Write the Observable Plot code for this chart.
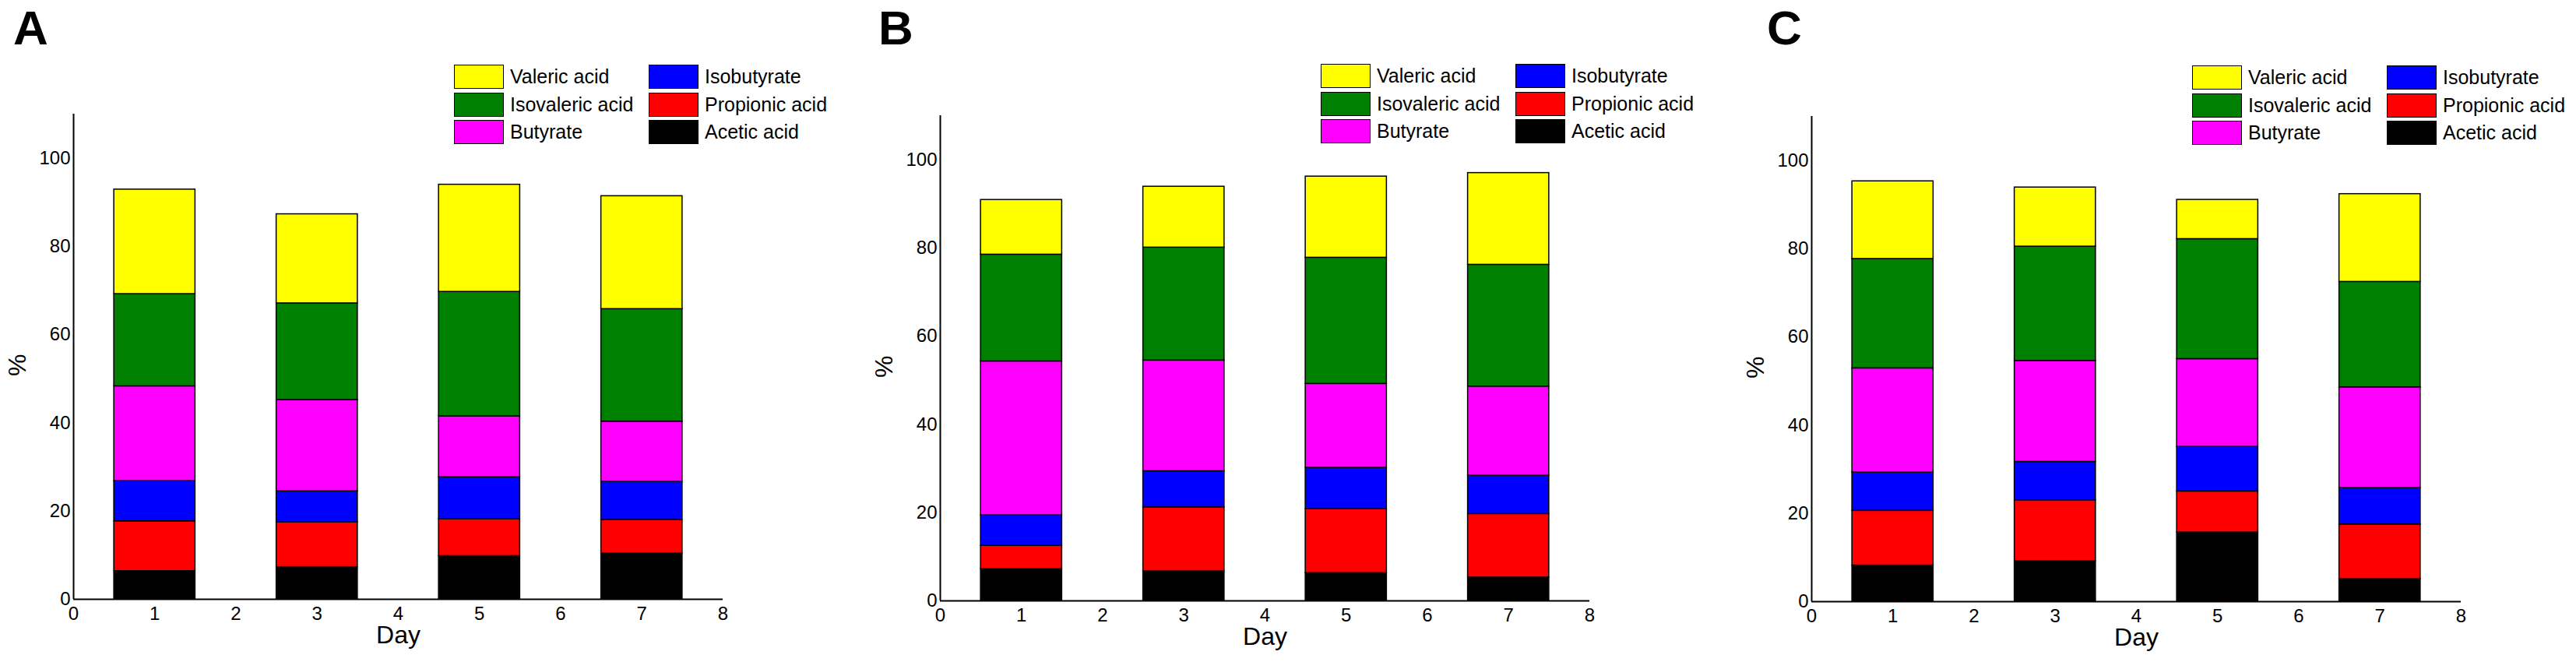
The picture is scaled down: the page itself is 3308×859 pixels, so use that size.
<!DOCTYPE html>
<html>
<head>
<meta charset="utf-8">
<script src="https://cdn.jsdelivr.net/npm/d3@7"></script>
<script src="https://cdn.jsdelivr.net/npm/@observablehq/plot@0.6"></script>
<style>
  body { margin: 0; background: #fff; }
  #fig { position: relative; width: 3308px; height: 859px; overflow: hidden; background: #fff;
         font-family: "Liberation Sans", Arial, sans-serif; color: #000; }
  .panel { position: absolute; }
  .letter { position: absolute; font-weight: bold; font-size: 62px; line-height: 70px; }
  .item { position: absolute; height: 31px; display: flex; align-items: center; font-size: 25px; white-space: nowrap; }
  .sw { width: 64px; height: 31px; box-sizing: border-box; border: 1.5px solid #000; margin-right: 8px; flex: none; }
</style>
</head>
<body>
<div id="fig"></div>
<script>
// ---- data ----
const days = [1, 3, 5, 7];
const acids = ["Acetic acid", "Propionic acid", "Isobutyrate", "Butyrate", "Isovaleric acid", "Valeric acid"];
const acidColors = ["#000000", "#ff0000", "#0000ff", "#ff00ff", "#008000", "#ffff00"];
const panelLetters = ["A", "B", "C"];
const xTicks = [0, 1, 2, 3, 4, 5, 6, 7, 8];
const yTicks = [0, 20, 40, 60, 80, 100];
const legendCol1 = ["Valeric acid", "Isovaleric acid", "Butyrate"];
const legendCol2 = ["Isobutyrate", "Propionic acid", "Acetic acid"];

// rows: acids (bottom to top), columns: days 1,3,5,7 (percent of each acid)
const valuesA = [
  [6.4, 7.3, 9.8, 10.4],
  [11.3, 10.2, 8.4, 7.6],
  [9.1, 7.0, 9.5, 8.7],
  [21.5, 20.7, 13.8, 13.6],
  [20.9, 21.9, 28.2, 25.5],
  [23.7, 20.2, 24.3, 25.6]
];
const valuesB = [
  [7.2, 6.7, 6.3, 5.3],
  [5.3, 14.5, 14.5, 14.4],
  [6.9, 8.2, 9.4, 8.7],
  [34.9, 25.1, 19.0, 20.2],
  [24.2, 25.6, 28.6, 27.6],
  [12.4, 13.8, 18.4, 20.8]
];
const valuesC = [
  [8.2, 9.2, 15.7, 5.1],
  [12.4, 13.8, 9.3, 12.4],
  [8.7, 8.7, 10.1, 8.3],
  [23.6, 22.9, 19.9, 22.8],
  [24.8, 25.9, 27.2, 23.9],
  [17.6, 13.4, 8.9, 19.9]
];
const panelValues = [valuesA, valuesB, valuesC];

// ---- layout ----
const layout = [
  {left: 0,    top: 0, width: 1100, letterX: 17,   legendTop: 83},
  {left: 1113, top: 2, width: 1100, letterX: 1128, legendTop: 82},
  {left: 2232, top: 3, width: 1076, letterX: 2269, legendTop: 84}
];
const mL = 94, plotW = 834, mT = 146, mB = 90, H = 859;
const fig = document.getElementById("fig");

panelValues.forEach((vals, p) => {
  const L = layout[p];
  const rows = [];
  acids.forEach((acid, i) => days.forEach((day, j) => rows.push({day, acid, value: vals[i][j]})));

  const chart = Plot.plot({
    width: L.width,
    height: H,
    marginLeft: mL,
    marginRight: L.width - mL - plotW,
    marginTop: mT,
    marginBottom: mB,
    style: {fontFamily: '"Liberation Sans", Arial, sans-serif', fontSize: "24px", background: "transparent", color: "#000"},
    x: {domain: [0, 8]},
    y: {domain: [0, 110]},
    color: {domain: acids, range: acidColors},
    marks: [
      Plot.rectY(rows, {x1: d => d.day - 0.5, x2: d => d.day + 0.5, y: "value", fill: "acid", stroke: "#000", strokeWidth: 1.5}),
      Plot.ruleX([0], {stroke: "#000", strokeWidth: 2}),
      Plot.ruleY([0], {stroke: "#000", strokeWidth: 2}),
      Plot.axisY({ticks: yTicks, tickSize: 0, tickPadding: 4, label: null, fontSize: 24}),
      Plot.axisX({ticks: xTicks, tickSize: 0, tickPadding: 9, label: null, fontSize: 24}),
      Plot.text(["Day"], {frameAnchor: "bottom", dy: 56, fontSize: 32}),
      Plot.text(["%"], {frameAnchor: "left", dx: -72, dy: 25, rotate: -90, fontSize: 32})
    ]
  });
  const wrap = document.createElement("div");
  wrap.className = "panel";
  wrap.style.left = L.left + "px";
  wrap.style.top = L.top + "px";
  wrap.appendChild(chart);
  fig.appendChild(wrap);

  const letter = document.createElement("div");
  letter.className = "letter";
  letter.textContent = panelLetters[p];
  letter.style.left = L.letterX + "px";
  letter.style.top = "1px";
  fig.appendChild(letter);

  const axisX = L.left + mL;
  [legendCol1, legendCol2].forEach((col, c) => {
    col.forEach((name, r) => {
      const item = document.createElement("div");
      item.className = "item";
      item.style.left = (axisX + (c === 0 ? 489 : 739)) + "px";
      item.style.top = (L.legendTop + r * 35.5) + "px";
      const sw = document.createElement("div");
      sw.className = "sw";
      sw.style.background = acidColors[acids.indexOf(name)];
      const t = document.createElement("span");
      t.textContent = name;
      item.appendChild(sw);
      item.appendChild(t);
      fig.appendChild(item);
    });
  });
});
</script>
</body>
</html>
